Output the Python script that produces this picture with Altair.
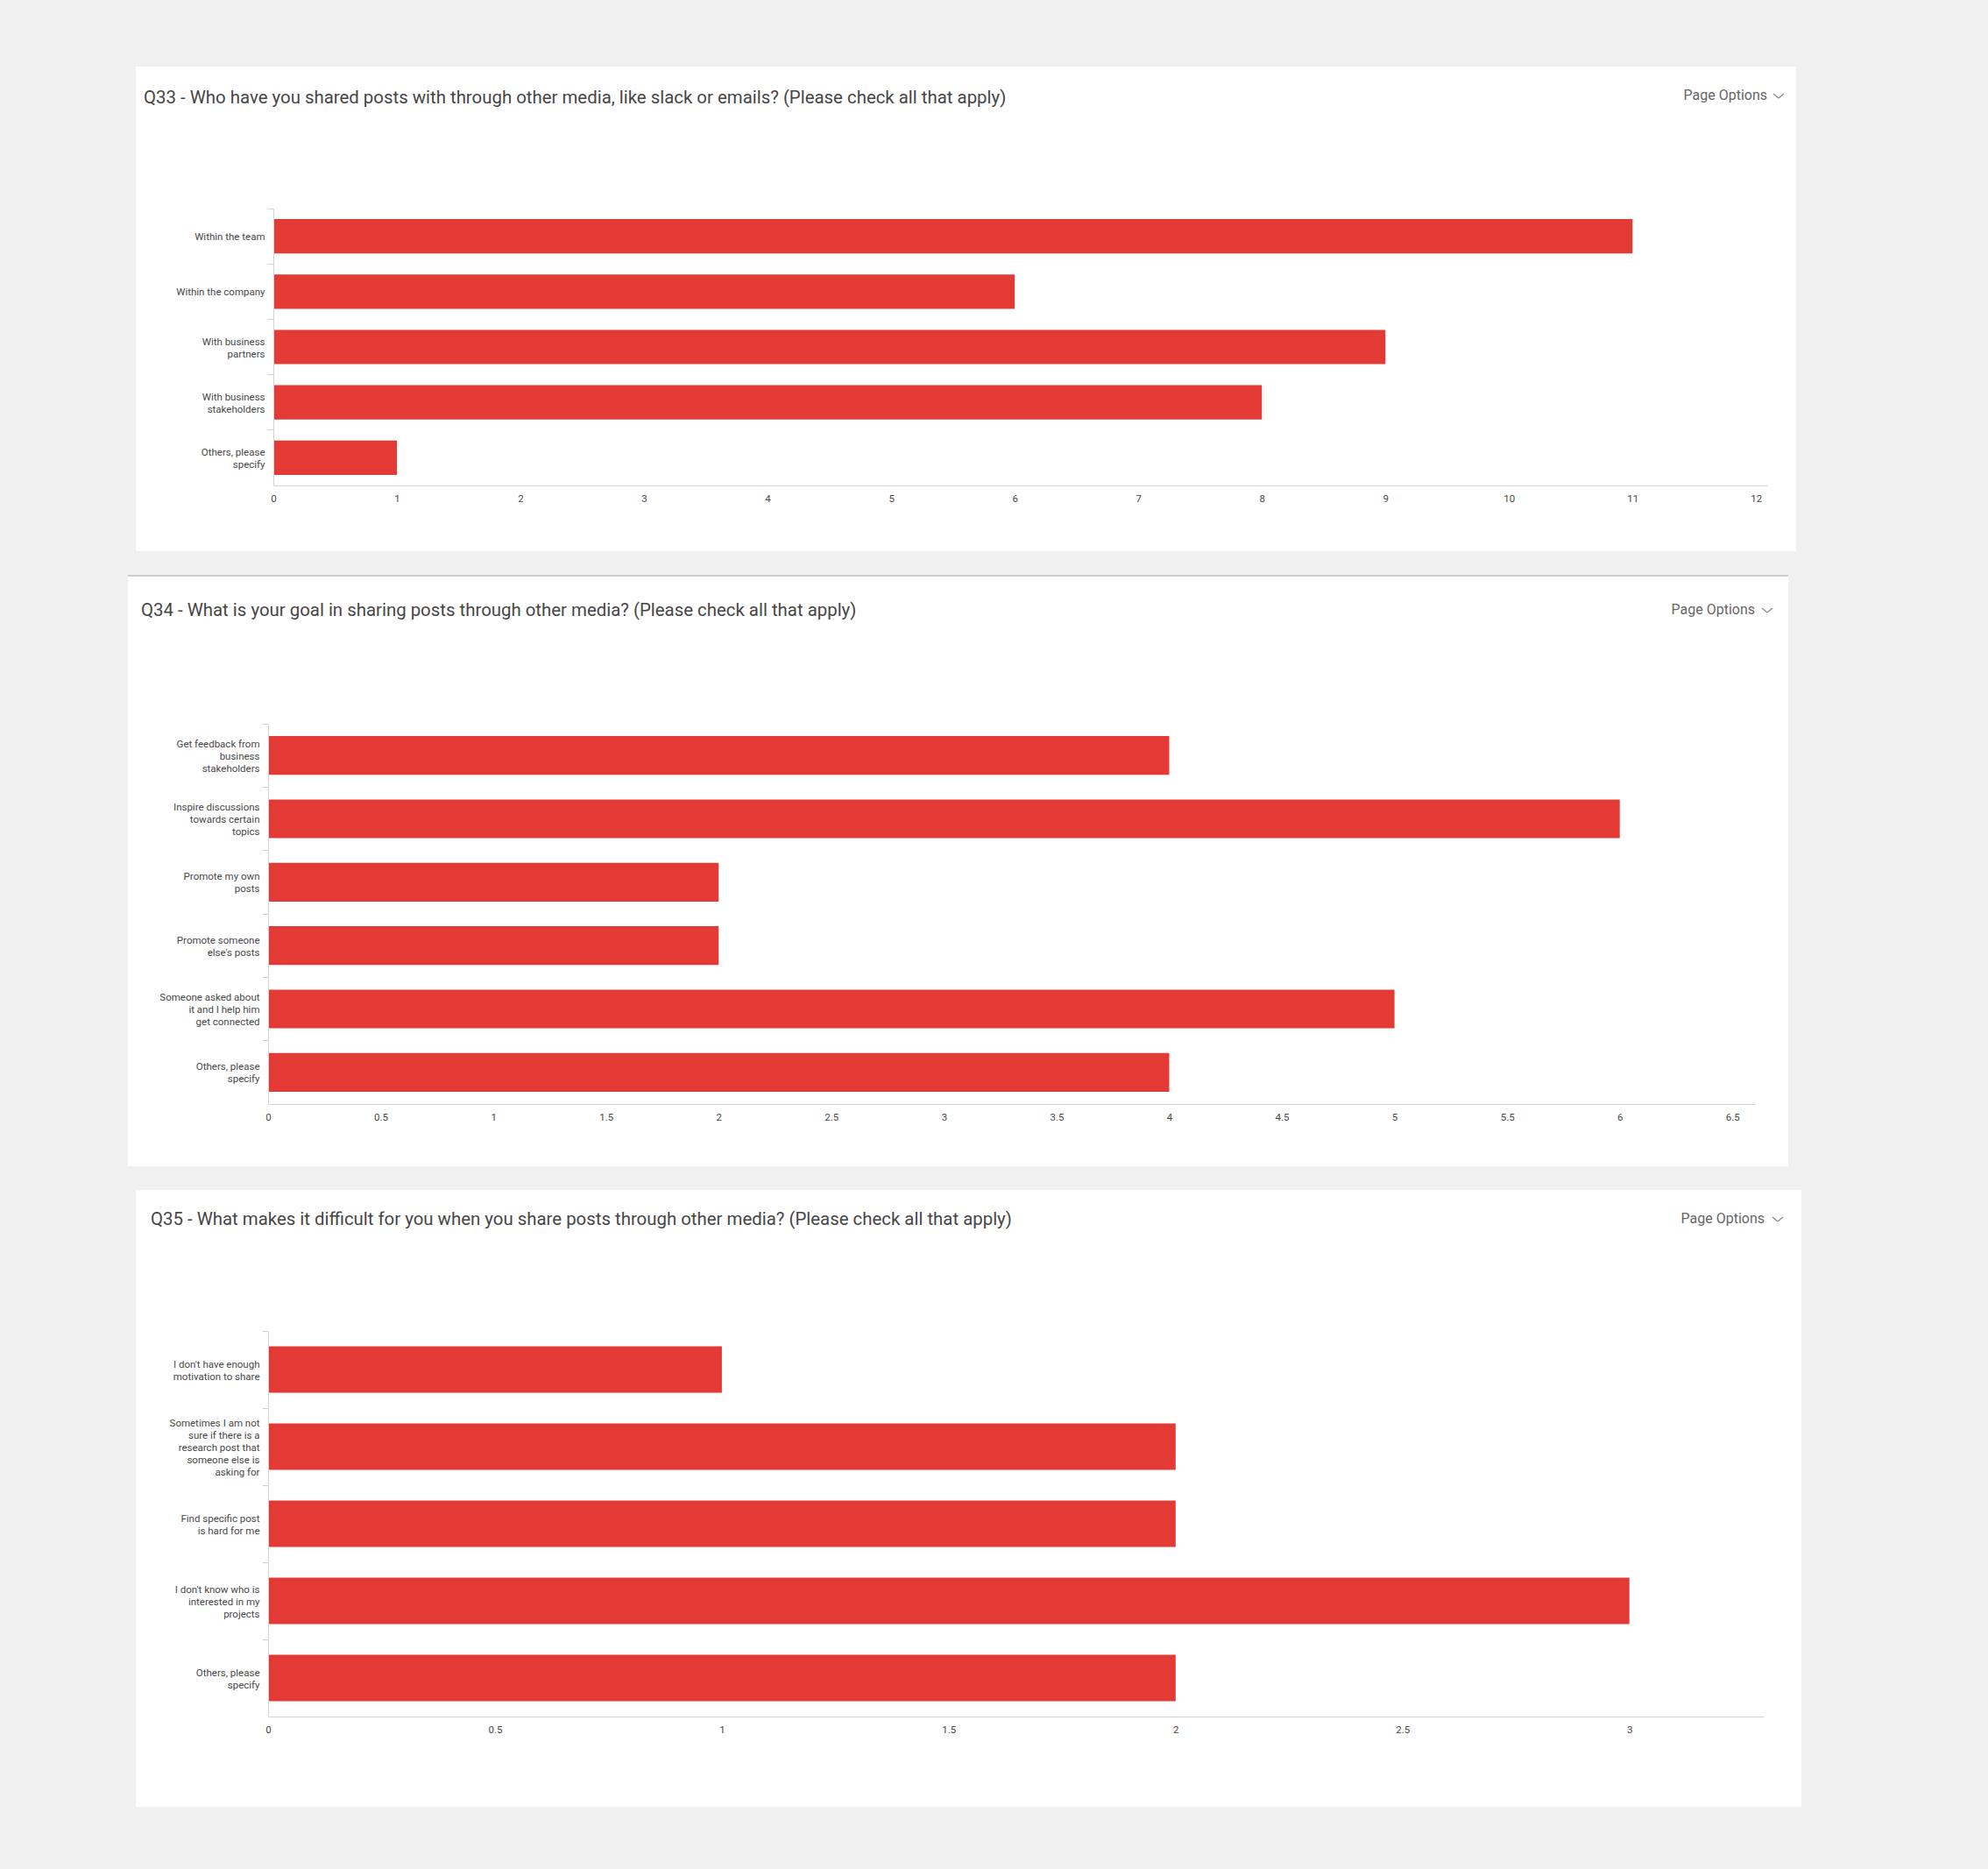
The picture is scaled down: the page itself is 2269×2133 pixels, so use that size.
import altair as alt
import pandas as pd

W, H = 2269, 2133
FONT = "Roboto"
BAR = "#e43a35"
AXIS_GRAY = "#d2d2d2"
LABEL = "#484848"

# ---------------- data ----------------
q33_title = "Q33 - Who have you shared posts with through other media, like slack or emails? (Please check all that apply)"
q33_labels = ["Within the team", "Within the company", "With business\npartners",
              "With business\nstakeholders", "Others, please\nspecify"]
q33_values = [11, 6, 9, 8, 1]
q33_ticks = [0, 1, 2, 3, 4, 5, 6, 7, 8, 9, 10, 11, 12]

q34_title = "Q34 - What is your goal in sharing posts through other media? (Please check all that apply)"
q34_labels = ["Get feedback from\nbusiness\nstakeholders", "Inspire discussions\ntowards certain\ntopics",
              "Promote my own\nposts", "Promote someone\nelse's posts",
              "Someone asked about\nit and I help him\nget connected", "Others, please\nspecify"]
q34_values = [4, 6, 2, 2, 5, 4]
q34_ticks = [0, 0.5, 1, 1.5, 2, 2.5, 3, 3.5, 4, 4.5, 5, 5.5, 6, 6.5]

q35_title = "Q35 - What makes it difficult for you when you share posts through other media? (Please check all that apply)"
q35_labels = ["I don't have enough\nmotivation to share",
              "Sometimes I am not\nsure if there is a\nresearch post that\nsomeone else is\nasking for",
              "Find specific post\nis hard for me", "I don't know who is\ninterested in my\nprojects",
              "Others, please\nspecify"]
q35_values = [1, 2, 2, 3, 2]
q35_ticks = [0, 0.5, 1, 1.5, 2, 2.5, 3]

page_options = "Page Options"

one = alt.Data(values=[{}])


def rect(x0, y0, x1, y1, color):
    return alt.Chart(one).mark_rect(color=color).encode(
        x=alt.value(x0), x2=alt.value(x1), y=alt.value(y0), y2=alt.value(y1))


def text(s, x, y, size, color, align="left"):
    return alt.Chart(one).mark_text(
        text=s, font=FONT, fontSize=size, color=color, align=align, baseline="alphabetic"
    ).encode(x=alt.value(x), y=alt.value(y))


def seg(x0, y0, x1, y1):
    return alt.Chart(one).mark_rule(color="#8a8a8a", strokeWidth=1.3).encode(
        x=alt.value(x0), y=alt.value(y0), x2=alt.value(x1), y2=alt.value(y1))


def chevron(cx, cy):
    return [seg(cx - 6, cy - 3, cx, cy + 2), seg(cx, cy + 2, cx + 6, cy - 3)]


LINE_H = 14


def bars(labels, values, ticks, ox, xend, xmax, y0, y1, band):
    df = pd.DataFrame({"cat": labels, "val": values})
    return alt.Chart(df).mark_bar(color=BAR, height=alt.RelativeBandSize(band)).encode(
        x=alt.X("val:Q",
                scale=alt.Scale(domain=[0, xmax], range=[ox, xend], nice=False, zero=True),
                axis=alt.Axis(title=None, orient="bottom", offset=y1 - H, values=ticks,
                              format="~g", ticks=False, grid=False, domainColor=AXIS_GRAY,
                              domainWidth=1, labelFont=FONT, labelFontSize=11.5,
                              labelColor=LABEL, labelPadding=9, labelFlush=False, zindex=1)),
        y=alt.Y("cat:N", sort=labels,
                scale=alt.Scale(domain=labels, range=[y0, y1], paddingInner=0, paddingOuter=0),
                axis=alt.Axis(title=None, orient="left", offset=-ox, bandPosition=0,
                              tickSize=7, tickColor=AXIS_GRAY, domainColor=AXIS_GRAY,
                              grid=False, labelFont=FONT, labelFontSize=11.5,
                              labelColor=LABEL, labelPadding=3, labelLineHeight=LINE_H,
                              labelLimit=300, zindex=1,
                              labelOffset=alt.ExprRef(
                                  f"1.5-{LINE_H / 2}*(length(split(datum.value, '\\n'))-1)"),
                              labelExpr="split(datum.value, '\\n')")),
    )


layers = [
    # panel backgrounds
    rect(155, 76, 2050, 629, "white"),
    rect(146, 657, 2041, 1331, "white"),
    rect(146, 656, 2041, 658, "#cdcdcd"),
    rect(155, 1358, 2056, 2062, "white"),
    # titles
    text(q33_title, 164, 118, 20.4, "#464646"),
    text(q34_title, 161, 703, 20.4, "#464646"),
    text(q35_title, 172, 1398, 20.4, "#464646"),
    text(page_options, 2017, 114, 16, "#666666", "right"),
    text(page_options, 2003, 701, 16, "#666666", "right"),
    text(page_options, 2014, 1396, 16, "#666666", "right"),
    *chevron(2030, 110),
    *chevron(2017, 697),
    *chevron(2029, 1392),
    # bars
    bars(q33_labels, q33_values, q33_ticks, 312, 2017, 12.09, 238, 554, 0.62),
    bars(q34_labels, q34_values, q34_ticks, 306, 2003, 6.6, 826, 1260, 0.61),
    bars(q35_labels, q35_values, q35_ticks, 306, 2013, 3.296, 1519, 1959, 0.60),
]

chart = alt.layer(*layers).resolve_scale(
    x="independent", y="independent"
).resolve_axis(
    x="independent", y="independent"
).properties(
    width=W, height=H, padding=0, autosize=alt.AutoSizeParams(type="none"),
    background="#f0f0f0"
).configure_view(strokeWidth=0)

chart.save("out.html", embed_options={"renderer": "svg", "actions": False})
